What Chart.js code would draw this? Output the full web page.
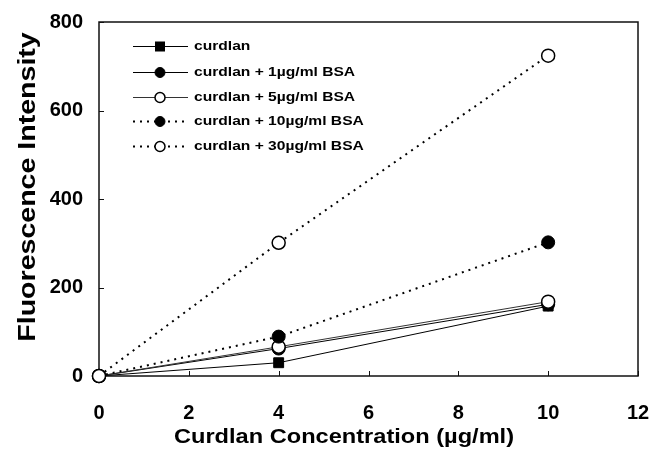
<!DOCTYPE html>
<html>
<head>
<meta charset="utf-8">
<script src="https://cdn.jsdelivr.net/npm/chart.js@4/dist/chart.umd.min.js"></script>
<style>
  html, body { margin: 0; padding: 0; background: #fff; }
  #wrap { width: 652px; height: 454px; }
</style>
</head>
<body>
<div id="wrap"><canvas id="chart" width="652" height="454"></canvas></div>
<script>
// data
const concentrations = [0, 4, 10];
const curdlan = [0, 30, 158];
const bsa1 = [0, 62, 162];
const bsa5 = [0, 66, 168];
const bsa10 = [0, 89, 302];
const bsa30 = [0, 301, 724];
const seriesLabels = ['curdlan', 'curdlan + 1\u00b5g/ml BSA', 'curdlan + 5\u00b5g/ml BSA',
  'curdlan + 10\u00b5g/ml BSA', 'curdlan + 30\u00b5g/ml BSA'];
const xTicks = [0, 2, 4, 6, 8, 10, 12];
const yTicks = [0, 200, 400, 600, 800];

const FONT = 'Liberation Sans, Arial, Helvetica, sans-serif';

function pts(ys) { return concentrations.map((x, i) => ({ x: x, y: ys[i] })); }

function ds(label, ys, opts) {
  return Object.assign({
    label: label,
    data: pts(ys),
    borderColor: '#000',
    borderWidth: 1,
    pointBackgroundColor: '#000',
    pointBorderColor: '#000',
    pointBorderWidth: 1,
    pointRadius: 6.5,
    pointHoverRadius: 6.5,
    pointStyle: 'circle',
    tension: 0,
    fill: false,
    clip: false
  }, opts);
}

const datasets = [
  ds(seriesLabels[0], curdlan, { pointStyle: 'rect', pointRadius: 7, order: 5 }),
  ds(seriesLabels[1], bsa1, { order: 4 }),
  ds(seriesLabels[2], bsa5, { pointBackgroundColor: '#fff', pointBorderWidth: 1.5, borderColor: '#333', order: 3 }),
  ds(seriesLabels[3], bsa10, { borderDash: [2, 5], borderWidth: 2, order: 2 }),
  ds(seriesLabels[4], bsa30, { borderDash: [2, 5], borderWidth: 2, pointBackgroundColor: '#fff', pointBorderWidth: 1.5, order: 1 })
];

// horizontally stretched text, like the source figure
function stretchText(ctx, txt, x, y, sx) {
  ctx.save();
  ctx.translate(x, y);
  ctx.scale(sx, 1);
  ctx.fillText(txt, 0, 0);
  ctx.restore();
}

// box, inward ticks, axis titles, legend
const decor = {
  id: 'decor',
  beforeDatasetsDraw(chart) {
    const ctx = chart.ctx;
    const a = chart.chartArea;
    const xs = chart.scales.x, ys = chart.scales.y;
    ctx.save();
    ctx.strokeStyle = '#111';
    ctx.lineWidth = 1.5;
    ctx.strokeRect(a.left, a.top, a.right - a.left, a.bottom - a.top);
    ctx.lineWidth = 1;
    ctx.beginPath();
    xTicks.forEach(v => {
      const px = Math.round(xs.getPixelForValue(v)) + 0.5;
      ctx.moveTo(px, a.bottom); ctx.lineTo(px, a.bottom - 5);
    });
    yTicks.forEach(v => {
      const py = Math.round(ys.getPixelForValue(v)) + 0.5;
      ctx.moveTo(a.left, py); ctx.lineTo(a.left + 5, py);
    });
    ctx.stroke();
    ctx.restore();
  },
  afterDatasetsDraw(chart) {
    const ctx = chart.ctx;
    ctx.save();
    // axis titles
    ctx.fillStyle = '#000';
    ctx.font = 'bold 20px ' + FONT;
    ctx.textAlign = 'center';
    ctx.textBaseline = 'middle';
    stretchText(ctx, 'Curdlan Concentration (\u00b5g/ml)', 344, 437, 1.18);
    ctx.save();
    ctx.translate(28, 187);
    ctx.rotate(-Math.PI / 2);
    ctx.font = 'bold 24px ' + FONT;
    stretchText(ctx, 'Fluorescence Intensity', 0, 0, 1.19);
    ctx.restore();

    // legend
    const rows = [46, 72, 97, 121, 146];
    ctx.font = 'bold 13px ' + FONT;
    ctx.textAlign = 'left';
    chart.data.datasets.forEach((d, i) => {
      const y = rows[i] + 0.5;
      ctx.beginPath();
      ctx.strokeStyle = d.borderColor;
      ctx.lineWidth = d.borderWidth;
      ctx.setLineDash(d.borderDash || []);
      ctx.moveTo(133, y); ctx.lineTo(188, y);
      ctx.stroke();
      ctx.setLineDash([]);
      ctx.lineWidth = d.pointBorderWidth;
      ctx.fillStyle = d.pointBackgroundColor;
      ctx.strokeStyle = '#000';
      if (d.pointStyle === 'rect') {
        ctx.fillRect(155, y - 5, 10, 10);
      } else {
        ctx.beginPath();
        ctx.arc(160, y, 5, 0, Math.PI * 2);
        ctx.fill();
        ctx.stroke();
      }
      ctx.fillStyle = '#000';
      stretchText(ctx, d.label, 194, y, 1.2);
    });
    ctx.restore();
  }
};

new Chart(document.getElementById('chart'), {
  type: 'line',
  data: { datasets: datasets },
  options: {
    responsive: false,
    animation: false,
    events: [],
    layout: { padding: { left: 0, right: 14, top: 22, bottom: 0 } },
    plugins: { legend: { display: false }, tooltip: { enabled: false } },
    scales: {
      x: {
        type: 'linear',
        min: 0, max: 12,
        afterBuildTicks: s => { s.ticks = xTicks.map(v => ({ value: v })); },
        afterFit: s => { s.height = 78; s.paddingLeft = 0; s.paddingRight = 0; },
        grid: { display: false, drawTicks: false },
        border: { display: false },
        ticks: { color: '#000', padding: 25, font: { family: FONT, size: 20, weight: 'bold' } }
      },
      y: {
        type: 'linear',
        min: 0, max: 800,
        afterBuildTicks: s => { s.ticks = yTicks.map(v => ({ value: v })); },
        afterFit: s => { s.width = 99; s.paddingTop = 0; s.paddingBottom = 0; },
        grid: { display: false, drawTicks: false },
        border: { display: false },
        ticks: { color: '#000', padding: 16, font: { family: FONT, size: 20, weight: 'bold' } }
      }
    }
  },
  plugins: [decor]
});
</script>
</body>
</html>
